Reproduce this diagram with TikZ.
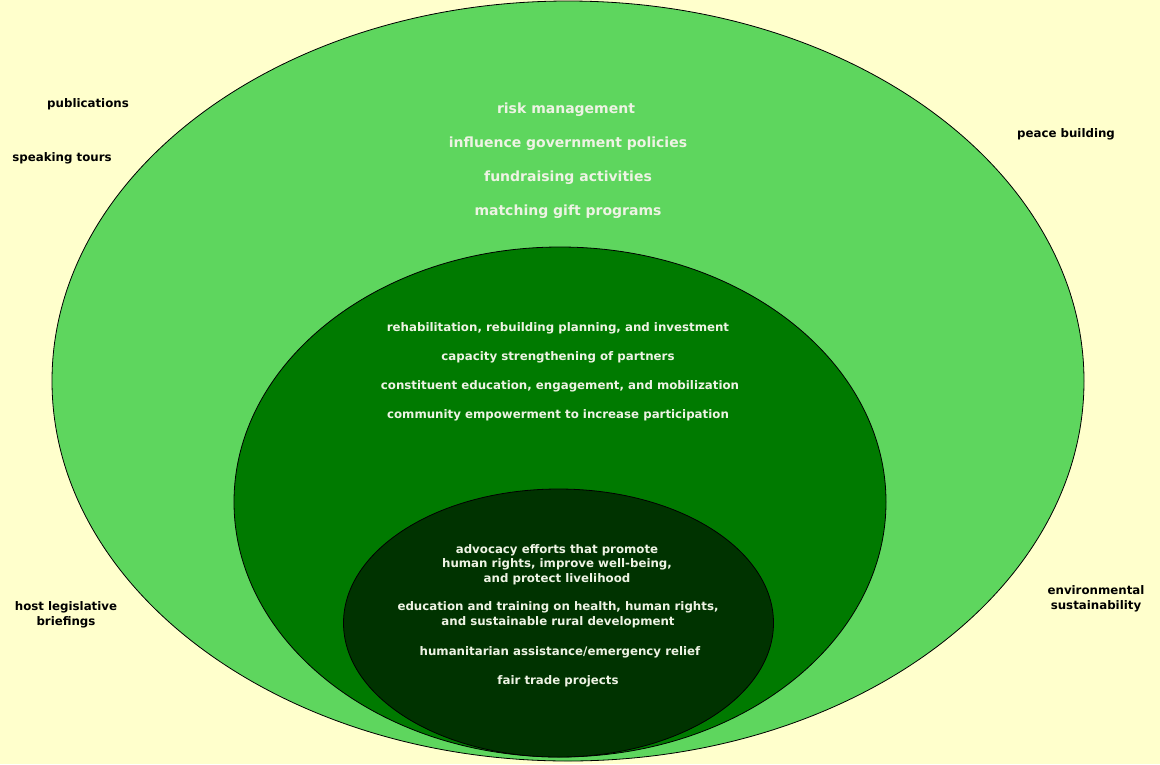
\documentclass[tikz,border=0pt]{standalone}
\usepackage{fontspec}
\setmainfont{DejaVu Sans}
\usetikzlibrary{positioning}
\definecolor{pagecream}{HTML}{FFFFCC}
\definecolor{ringlight}{HTML}{5ED65E}
\definecolor{ringmid}{HTML}{007A00}
\definecolor{ringdark}{HTML}{003300}
\definecolor{ringtext}{HTML}{EEF3E4}

\begin{document}
\begin{tikzpicture}[x=1pt, y=-1pt,
      ring/.style={draw=black, line width=0.8pt},
      outerlabel/.style={font=\bfseries\fontsize{11.8}{14.5}\selectfont,
        text=black, align=center, inner sep=0pt},
      bigitem/.style={font=\bfseries\fontsize{14}{16}\selectfont,
        text=ringtext, inner sep=0pt},
      item/.style={font=\bfseries\fontsize{11.8}{14.6}\selectfont,
        text=ringtext, align=center, inner sep=0pt}
    ]
      \fill[pagecream] (0,0) rectangle (1160,764);
      \useasboundingbox (0,0) rectangle (1160,764);
      % the three rings
      \draw[ring, fill=ringlight] (568,381) ellipse [x radius=516, y radius=380];
      \draw[ring, fill=ringmid] (560,502) ellipse [x radius=326, y radius=255];
      \draw[ring, fill=ringdark] (558.5,623) ellipse [x radius=215, y radius=134];
      % outside the rings
      \node[outerlabel] (publications) at (88,104) {publications};
      \node[outerlabel] (tours) at (62,158) {speaking tours};
      \node[outerlabel] (briefings) at (66,615) {host legislative\\briefings};
      \node[outerlabel] (peace) at (1066,134) {peace building};
      \node[outerlabel] (environment) at (1096,599) {environmental\\sustainability};
      % outer ring
      \node[bigitem] (risk) at (566,110) {risk management};
      \node[bigitem] (influence) at (568,144) {influence government policies};
      \node[bigitem] (fundraising) at (568,178) {fundraising activities};
      \node[bigitem] (matching) at (568,212) {matching gift programs};
      % middle ring
      \node[item] (rehab) at (558,328) {rehabilitation, rebuilding planning, and investment};
      \node[item] (capacity) at (558,357) {capacity strengthening of partners};
      \node[item] (constituent) at (560,386) {constituent education, engagement, and mobilization};
      \node[item] (community) at (558,415) {community empowerment to increase participation};
      % inner ring
      \node[item] (advocacy) at (557,564.5)
        {advocacy efforts that promote\\human rights, improve well-being,\\and protect livelihood};
      \node[item] (education) at (558,615)
        {education and training on health, human rights,\\and sustainable rural development};
      \node[item] (relief) at (560,652) {humanitarian assistance/emergency relief};
      \node[item] (fairtrade) at (558,681) {fair trade projects};
    \end{tikzpicture}
\end{document}
